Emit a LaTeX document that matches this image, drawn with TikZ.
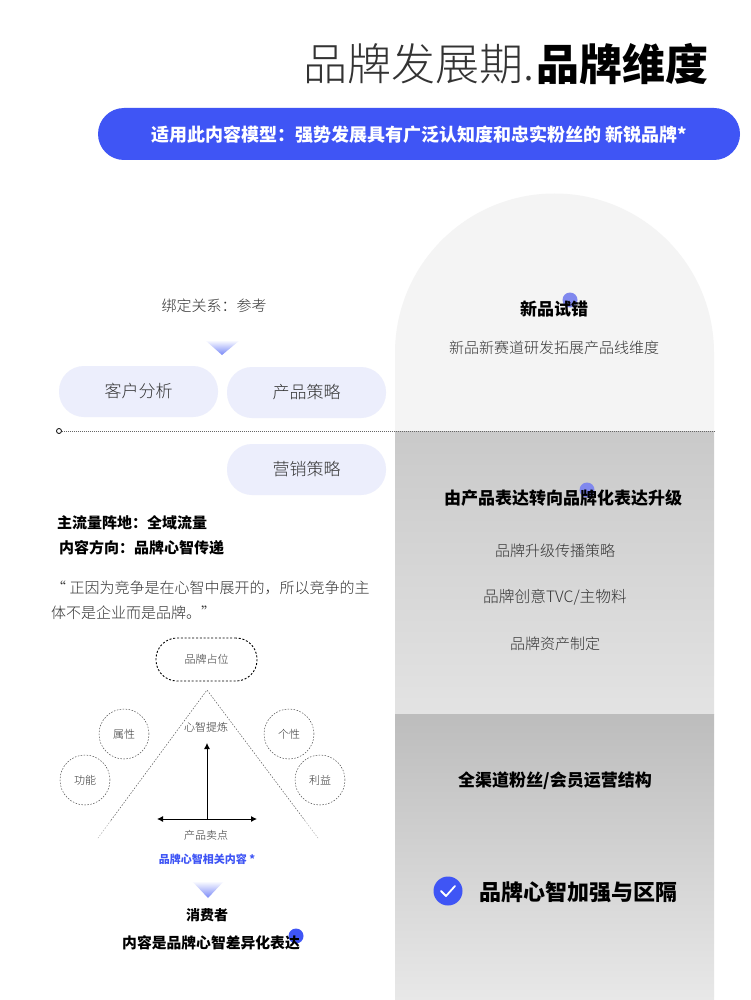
\documentclass[tikz,border=0pt]{standalone}
\usepackage{fontspec}
\usepackage{xcolor}
\usetikzlibrary{arrows.meta,calc}
\setmainfont{Noto Sans CJK SC}[UprightFont=* Light,BoldFont=* Black]
\definecolor{brandblue}{HTML}{3F55F5}
\definecolor{pillblue}{HTML}{ECEEFC}
\definecolor{dotblue}{HTML}{8088EE}
\definecolor{softgray}{HTML}{F4F4F4}
\definecolor{inktext}{HTML}{333333}
\newcommand{\px}[1]{\fontsize{#1}{#1}\selectfont}

\begin{document}
\begin{tikzpicture}[>={Latex[length=6pt,width=6pt]},x=1pt,y=-1pt,
    lbl/.style={inner sep=0pt,text=inktext,yshift=-0.8pt},
    head/.style={inner sep=0pt,text=black,yshift=-0.8pt,font=\bfseries\px{17}},
    pill/.style={draw=none,fill=pillblue,rounded corners=25pt,minimum width=159pt,minimum height=51pt,inner sep=0pt,text=inktext,font=\px{17}},
    ring/.style={circle,draw=black!70,dash pattern=on 1.5pt off 1.5pt,line width=0.5pt,minimum size=50pt,inner sep=0pt,text=inktext,font=\px{11}},
    spot/.style={circle,fill=#1,minimum size=15pt,inner sep=0pt}]
  \useasboundingbox (0,0) rectangle (750,1000);
  \fill[white] (0,0) rectangle (750,1000);
  % right column
  \fill[softgray] (395,431) -- (395,353) arc[start angle=180,end angle=360,radius=159.5] -- (714,431) -- cycle;
  \shade[top color=black!21,bottom color=black!11] (395,431) rectangle (714,714);
  \shade[top color=black!26,bottom color=black!9] (395,714) rectangle (714,1000);
  % title and banner
  \node[lbl,text=black!80,font=\px{44},anchor=west] (titlea) at (303,63) {品牌发展期.};
  \node[inner sep=0pt,text=black,yshift=-0.8pt,font=\bfseries\px{43},anchor=west] (titleb) at (536,63) {品牌维度};
  \node[fill=brandblue,rounded corners=26pt,minimum width=642pt,minimum height=52pt,inner sep=0pt] (banner) at (419,134) {};
  \node[inner sep=0pt,text=white,yshift=-0.8pt,font=\bfseries\px{18}] (bannertext) at (419,134) {适用此内容模型：强势发展具有广泛认知度和忠实粉丝的 新锐品牌*};
  % left column
  \node[lbl,font=\px{15}] (bind) at (214,305) {绑定关系：参考};
  \shade[top color=white,bottom color=brandblue!70] (205,340) -- (240,340) -- (222,355) -- cycle;
  \node[pill] (client) at (138.5,391.5) {客户分析};
  \node[pill] (product) at (306.5,392.5) {产品策略};
  \node[pill] (market) at (306.5,469.5) {营销策略};
  \coordinate (dotend) at (714,431);
  \node[circle,draw=black,line width=0.8pt,minimum size=5pt,inner sep=0pt] (dotstart) at (59,431) {};
  \draw[black!60,line width=1pt,dash pattern=on 1pt off 1pt] (dotstart) -- (dotend);
  \node[inner sep=0pt,yshift=-0.8pt,font=\bfseries\px{15},anchor=west] (flow) at (57,522) {主流量阵地：全域流量};
  \node[inner sep=0pt,yshift=-0.8pt,font=\bfseries\px{15},anchor=west] (direction) at (59,547) {内容方向：品牌心智传递};
  \node[lbl,font=\px{15},anchor=west] (quotea) at (51,587) {“ 正因为竞争是在心智中展开的，所以竞争的主};
  \node[lbl,font=\px{15},anchor=west] (quoteb) at (51,612) {体不是企业而是品牌。”};
  % triangle figure
  \node[draw=black,dash pattern=on 2pt off 1.8pt,line width=0.9pt,rounded corners=21pt,minimum width=101pt,minimum height=43pt,inner sep=0pt,text=inktext,font=\px{11}] (position) at (206.5,659.5) {品牌占位};
  \coordinate (apex) at (207,690);
  \coordinate (baseleft) at (98,838);
  \coordinate (baseright) at (318,838);
  \draw[black!65,line width=0.5pt,dash pattern=on 1.5pt off 1.5pt] ($(apex)!0.88!(baseleft)$) -- (apex) -- ($(apex)!0.88!(baseright)$);
  \draw[black!30,line width=0.5pt,dash pattern=on 1.5pt off 1.5pt] ($(apex)!0.88!(baseleft)$) -- (baseleft);
  \draw[black!30,line width=0.5pt,dash pattern=on 1.5pt off 1.5pt] ($(apex)!0.88!(baseright)$) -- (baseright);
  \node[ring] (attr) at (124,734) {属性};
  \node[ring] (func) at (85,780) {功能};
  \node[ring] (person) at (289,734) {个性};
  \node[ring] (benefit) at (320,780) {利益};
  \node[lbl,font=\px{11}] (mind) at (206,727) {心智提炼};
  \coordinate (origin) at (207,819);
  \coordinate (arrowtop) at (207,743);
  \coordinate (arrowl) at (157,819);
  \coordinate (arrowr) at (257,819);
  \draw[->,line width=0.8pt] (origin) -- (arrowtop);
  \draw[<->,line width=0.9pt] (arrowl) -- (arrowr);
  \node[lbl,font=\px{11}] (sell) at (206,835) {产品卖点};
  \node[inner sep=0pt,text=brandblue,yshift=-0.8pt,font=\bfseries\px{11}] (related) at (207,858) {品牌心智相关内容 *};
  \shade[top color=white,bottom color=brandblue!70] (192,881) -- (224,881) -- (208,898) -- cycle;
  \node[inner sep=0pt,yshift=-0.8pt,font=\bfseries\px{14}] (consumer) at (207,914) {消费者};
  \node[spot=brandblue] (dotc) at (296,936) {};
  \node[inner sep=0pt,yshift=-0.8pt,font=\bfseries\px{14.8}] (express) at (211,942) {内容是品牌心智差异化表达};
  % right column text
  \node[spot=dotblue] (dota) at (570,300) {};
  \node[head] (trial) at (554,308) {新品试错};
  \node[lbl,font=\px{15}] (trialsub) at (554,347) {新品新赛道研发拓展产品线维度};
  \node[spot=dotblue] (dotb) at (587,490) {};
  \node[head] (upgrade) at (563,497) {由产品表达转向品牌化表达升级};
  \node[lbl,font=\px{15}] (upa) at (555,550) {品牌升级传播策略};
  \node[lbl,font=\px{15.7}] (upb) at (555,596) {品牌创意TVC/主物料};
  \node[lbl,font=\px{15}] (upc) at (555,643) {品牌资产制定};
  \node[head] (channel) at (555,780) {全渠道粉丝/会员运营结构};
  \node[circle,fill=brandblue,minimum size=29pt,inner sep=0pt] (check) at (448,891) {};
  \draw[white,line width=1.8pt,line cap=round,line join=round] ($(check)+(-7,0)$) -- ($(check)+(-2,5)$) -- ($(check)+(7,-5)$);
  \node[inner sep=0pt,yshift=-0.8pt,font=\bfseries\px{22},anchor=west] (strong) at (479,891) {品牌心智加强与区隔};
\end{tikzpicture}
\end{document}
